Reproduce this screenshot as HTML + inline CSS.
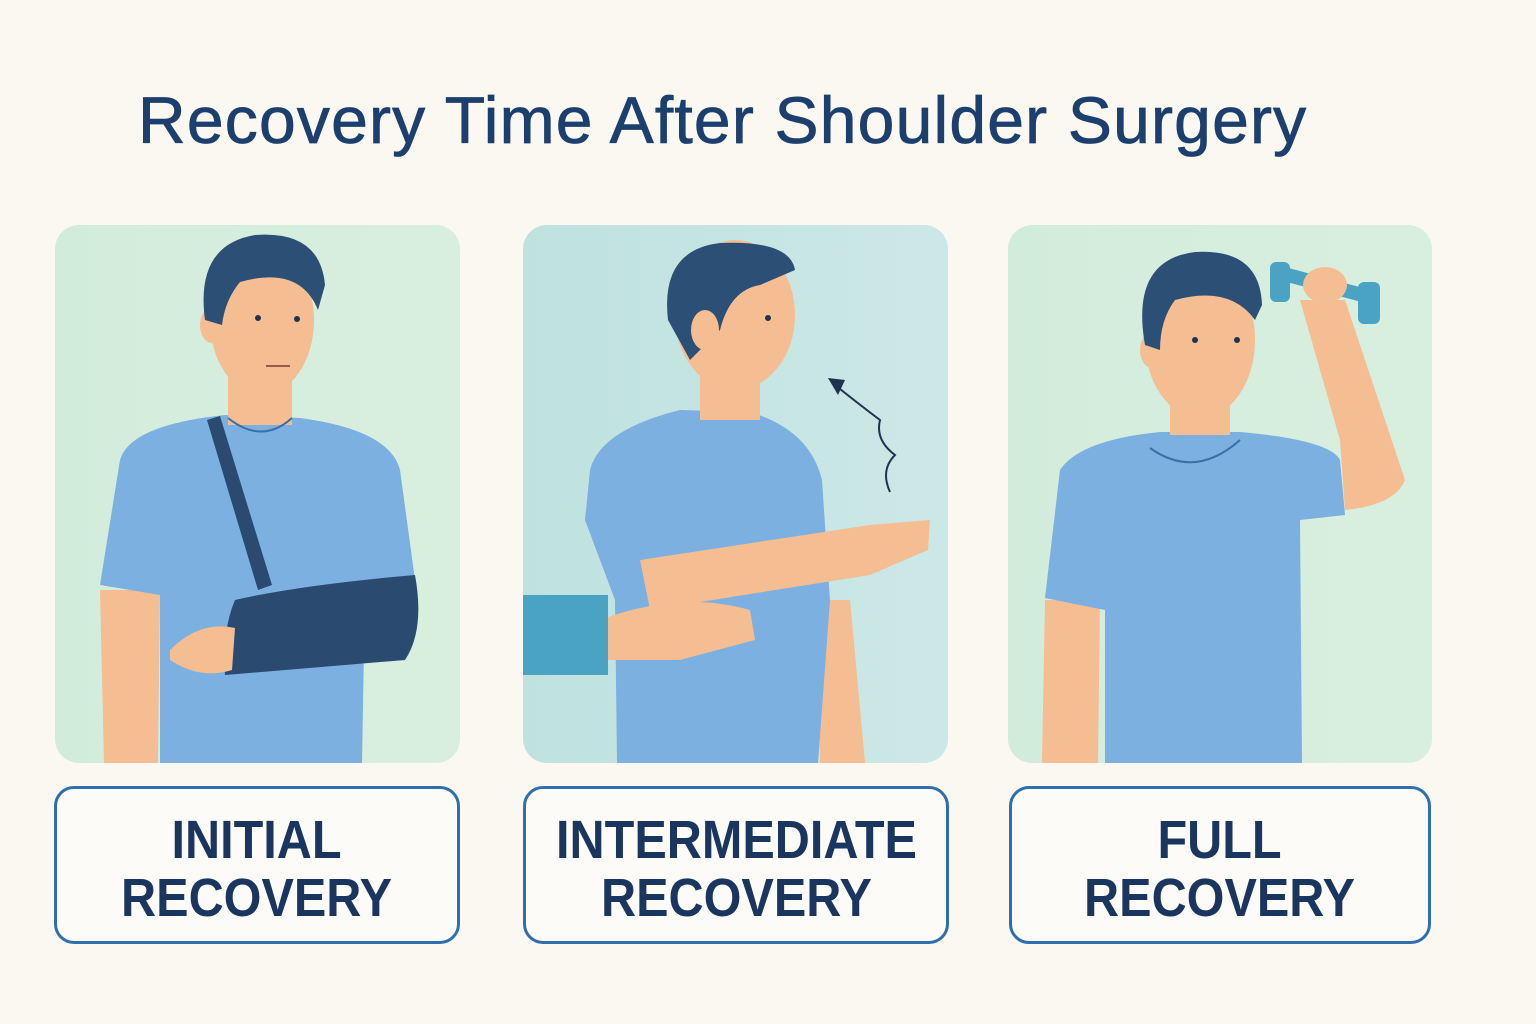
<!DOCTYPE html>
<html><head><meta charset="utf-8"><style>
body{margin:0;width:1536px;height:1024px;background:#faf8f1;overflow:hidden;font-family:"Liberation Sans",sans-serif}
.t{position:absolute;left:138px;top:82px;font-size:66px;color:#1d3f6e;letter-spacing:1.2px;white-space:nowrap;-webkit-text-stroke:0.8px #1d3f6e}
.lb{position:absolute;top:786px;height:158px;border:3px solid #2f6fad;border-radius:20px;box-sizing:border-box;display:flex;align-items:center;justify-content:center;text-align:center;font-weight:bold;font-size:54px;line-height:58px;color:#1b365e;background:#fcfbf7;padding-top:8px}
.lb span{display:inline-block;transform:scaleX(0.9)}
</style></head><body>
<div class="t">Recovery Time After Shoulder Surgery</div>
<svg width="1536" height="1024" style="position:absolute;left:0;top:0">
<defs>
<linearGradient id="g1" x1="0" x2="1"><stop offset="0" stop-color="#d2ecdc"/><stop offset="1" stop-color="#d9efde"/></linearGradient>
<linearGradient id="g2" x1="0" x2="1"><stop offset="0" stop-color="#bfe2df"/><stop offset="1" stop-color="#cce8e6"/></linearGradient>
</defs>
<rect x="55" y="225" width="405" height="538" rx="24" fill="url(#g1)"/>
<rect x="523" y="225" width="425" height="538" rx="24" fill="url(#g2)"/>
<rect x="1008" y="225" width="424" height="538" rx="24" fill="url(#g1)"/>
<!-- Panel 1 -->
<g>
<path d="M100 590 L160 590 L158 763 L104 763 Z" fill="#f4bd92"/>
<path d="M120 460 Q130 425 225 415 L300 418 Q390 430 400 470 L415 580 L365 590 L362 763 L160 763 L160 595 L100 585 Z" fill="#7bb0e0"/>
<rect x="228" y="370" width="64" height="55" fill="#f4bd92"/>
<path d="M228 418 Q262 445 292 418" stroke="#3a6fa8" stroke-width="2" fill="none"/>
<ellipse cx="262" cy="320" rx="52" ry="75" fill="#f4bd92"/>
<ellipse cx="212" cy="325" rx="12" ry="18" fill="#f4bd92"/>
<path d="M205 320 Q195 245 255 235 Q320 230 325 285 L318 310 Q300 265 240 282 Q225 300 222 325 Z" fill="#2c4f76"/>
<circle cx="258" cy="318" r="3" fill="#1d3350"/><circle cx="297" cy="319" r="3" fill="#1d3350"/>
<path d="M266 366 L290 366" stroke="#9b5a48" stroke-width="2"/>
<path d="M207 420 L220 416 L272 585 L258 590 Z" fill="#2a4a6f"/>
<path d="M235 600 Q300 585 415 575 Q425 630 405 660 L225 675 Q222 630 235 600 Z" fill="#2a4a6f"/>
<path d="M170 650 Q200 620 235 628 L232 670 Q200 680 170 660 Z" fill="#f4bd92"/>
</g>
<!-- Panel 2 -->
<g>
<path d="M818 600 L850 600 L865 763 L820 763 Z" fill="#f4bd92"/>
<path d="M590 470 Q600 430 680 410 L750 412 Q810 430 822 480 L830 600 L818 763 L617 763 L615 600 L585 520 Z" fill="#7bb0e0"/>
<path d="M640 560 L870 525 L930 520 L928 550 L870 575 L650 610 Z" fill="#f4bd92"/>
<path d="M600 620 Q680 590 750 610 L755 640 L680 660 L605 660 Z" fill="#f4bd92"/>
<rect x="523" y="595" width="85" height="80" fill="#4aa3c3"/>
<rect x="700" y="350" width="60" height="70" fill="#f4bd92"/>
<ellipse cx="735" cy="315" rx="60" ry="75" fill="#f4bd92"/>
<path d="M668 320 Q660 250 720 243 Q790 240 795 270 L760 285 Q730 290 720 330 L690 360 Z" fill="#2c4f76"/>
<ellipse cx="705" cy="330" rx="14" ry="20" fill="#f4bd92"/>
<circle cx="768" cy="318" r="3" fill="#1d3350"/>
<path d="M890 492 Q880 470 895 455 Q875 440 880 420 Q860 405 835 385" stroke="#1d3350" stroke-width="2" fill="none"/>
<path d="M828 378 L845 380 L838 395 Z" fill="#1d3350"/>
</g>
<!-- Panel 3 -->
<g>
<path d="M1045 600 L1100 600 L1098 763 L1042 763 Z" fill="#f4bd92"/>
<path d="M1060 470 Q1080 440 1160 432 L1240 432 Q1330 440 1340 460 L1345 515 L1300 520 L1302 763 L1105 763 L1105 610 L1045 598 Z" fill="#7bb0e0"/>
<path d="M1300 300 L1345 300 L1375 390 L1405 480 Q1395 505 1345 510 L1340 440 Z" fill="#f4bd92"/>
<rect x="1270" y="262" width="20" height="40" rx="6" fill="#4aa3c3"/>
<rect x="1358" y="282" width="22" height="42" rx="6" fill="#4aa3c3"/>
<rect x="1285" y="278" width="80" height="14" fill="#4aa3c3" transform="rotate(15 1325 285)"/>
<ellipse cx="1325" cy="285" rx="22" ry="18" fill="#f4bd92"/>
<rect x="1170" y="385" width="60" height="50" fill="#f4bd92"/>
<ellipse cx="1200" cy="340" rx="55" ry="78" fill="#f4bd92"/>
<ellipse cx="1152" cy="350" rx="12" ry="18" fill="#f4bd92"/>
<path d="M1145 345 Q1130 260 1195 252 Q1260 248 1262 305 L1255 320 Q1230 285 1175 300 Q1160 320 1160 350 Z" fill="#2c4f76"/>
<circle cx="1195" cy="340" r="3" fill="#1d3350"/><circle cx="1237" cy="340" r="3" fill="#1d3350"/>
<path d="M1150 448 Q1195 480 1240 440" stroke="#3a6fa8" stroke-width="2" fill="none"/>
</g>
</svg>
<div class="lb" style="left:54px;width:406px"><span>INITIAL<br>RECOVERY</span></div>
<div class="lb" style="left:523px;width:426px"><span>INTERMEDIATE<br>RECOVERY</span></div>
<div class="lb" style="left:1009px;width:422px"><span>FULL<br>RECOVERY</span></div>
</body></html>
